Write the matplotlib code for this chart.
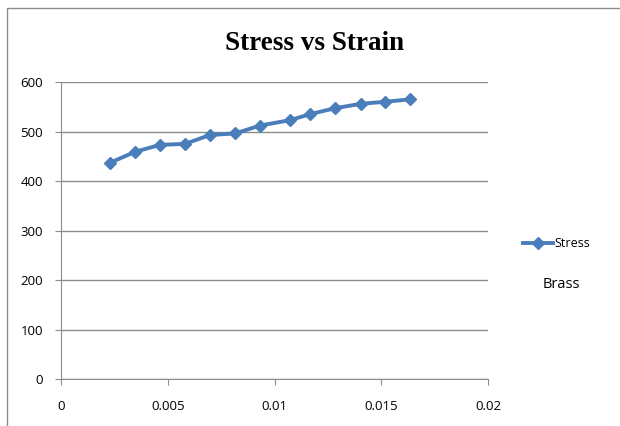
import matplotlib.pyplot as plt
from matplotlib.patches import Rectangle

# Brass tensile test readings
strain = [0.00230, 0.00347, 0.00464, 0.00581, 0.00698, 0.00815, 0.00932,
          0.01073, 0.01166, 0.01283, 0.01405, 0.01518, 0.01635]
stress = [437, 459, 473, 475, 493, 496, 512, 523, 535, 547, 556, 560, 565]

x_ticks = [0, 0.005, 0.01, 0.015, 0.02]
x_labels = ['0', '0.005', '0.01', '0.015', '0.02']
y_ticks = [0, 100, 200, 300, 400, 500, 600]

blue = '#4A7EBB'
tick_font = 'Open Sans'

fig = plt.figure(figsize=(6.2, 4.26), dpi=100)
ax = fig.add_axes([0.0984, 0.1103, 0.6887, 0.6972])

ax.plot(strain, stress, color=blue, linewidth=2.8, marker='D',
        markersize=6.5, label='Stress')

ax.set_xlim(0, 0.02)
ax.set_ylim(0, 600)
ax.set_xticks(x_ticks)
ax.set_xticklabels(x_labels)
ax.set_yticks(y_ticks)
ax.grid(axis='y', color='#8c8c8c', linewidth=1)
ax.set_axisbelow(True)

for side in ['top', 'right']:
    ax.spines[side].set_visible(False)
for side in ['left', 'bottom']:
    ax.spines[side].set_color('#8c8c8c')
ax.tick_params(axis='both', direction='out', color='#8c8c8c', length=4,
               labelsize=9.5)
ax.tick_params(axis='x', pad=11)
ax.tick_params(axis='y', pad=9)
for lbl in ax.get_xticklabels() + ax.get_yticklabels():
    lbl.set_family(tick_font)

fig.text(0.508, 0.898, 'Stress vs Strain', ha='center', va='center',
         fontsize=19.5, fontweight='bold', family='Liberation Serif')

leg = fig.legend(loc='center left', bbox_to_anchor=(0.825, 0.428),
                 frameon=False, handlelength=2.4, handletextpad=0.1,
                 prop={'family': tick_font, 'size': 9})

fig.text(0.906, 0.333, 'Brass', ha='center', va='center', fontsize=10.5,
         family=tick_font)

# outer chart frame
fig.patches.append(Rectangle((7 / 620, -0.1), 1.2, 1.1 - 8 / 426,
                             transform=fig.transFigure, fill=False,
                             edgecolor='#8c8c8c', linewidth=1))

fig.savefig('out.png', dpi=100)
